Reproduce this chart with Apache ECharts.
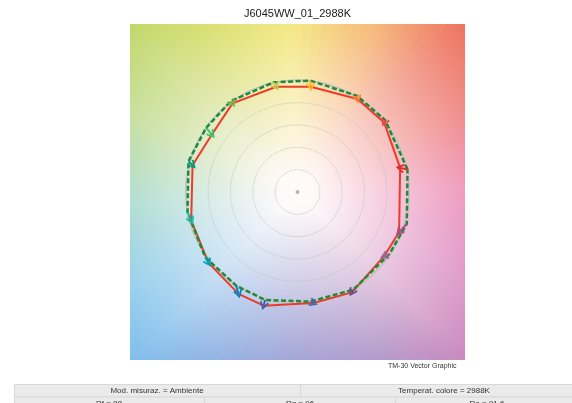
<!DOCTYPE html>
<html>
<head>
<meta charset="utf-8">
<title>J6045WW_01_2988K</title>
<script src="https://cdn.jsdelivr.net/npm/echarts@6/dist/echarts.min.js"></script>
<style>
  html, body { margin: 0; padding: 0; background: #fff; }
  #chart { width: 572px; height: 403px; }
</style>
</head>
<body>
<div id="chart"></div>
<script>
// TM-30 hue bins 1..16, normalized a'b' (reference = circle of radius 1)
const hueBins = ['1', '2', '3', '4', '5', '6', '7', '8', '9', '10', '11', '12', '13', '14', '15', '16']
const refX = [0.985, 0.785, 0.531, 0.113, -0.215, -0.597, -0.818, -0.976, -0.985, -0.827, -0.549, -0.290, 0.113, 0.501, 0.824, 0.979]
const refY = [0.203, 0.642, 0.860, 0.994, 0.979, 0.812, 0.573, 0.275, -0.179, -0.582, -0.836, -0.964, -0.979, -0.872, -0.552, -0.284]
const testX = [0.919, 0.776, 0.537, 0.119, -0.191, -0.582, -0.767, -0.940, -0.952, -0.797, -0.528, -0.304, 0.143, 0.487, 0.776, 0.910]
const testY = [0.215, 0.621, 0.830, 0.940, 0.940, 0.791, 0.513, 0.239, -0.254, -0.633, -0.910, -1.015, -0.991, -0.896, -0.573, -0.358]
const binColors = ['#e62828', '#e74b4b', '#fb812e', '#ffb529', '#cbca46', '#7eb94c', '#41c06d', '#009c7c',
  '#16bcb0', '#00a4bf', '#0085c3', '#3b62aa', '#4568ae', '#6a4e85', '#9d69a1', '#a74f81']

const axisRange = [-1.5, 1.5]
const ringRadius = [0, 1]
const ringStep = 0.2

const titleText = 'J6045WW_01_2988K'
const captionText = 'TM-30 Vector Graphic'
const infoRow1 = ['Mod. misuraz. = Ambiente', 'Temperat. colore = 2988K']
const infoRow2 = ['Rf = 88', 'Rg = 96', 'Ra = 91.6']

// background hue colours along the square border, clockwise from top-left corner
const edgeColors = ['#c2d76b', '#d9e074', '#f5e985', '#f6b878', '#ed745f', '#f08c86', '#f09dbf', '#e29bcb',
  '#c98abf', '#b79bcb', '#a7a5d6', '#93b2e3', '#7fbdec', '#9cd2ed', '#b4dfd2', '#c6df9c']

const sq = { left: 130, top: 24, width: 335, height: 336 }
const cx = sq.left + sq.width / 2
const cy = sq.top + sq.height / 2

function perimeterPoint(t) {
  t = ((t % 16) + 16) % 16
  const s = Math.floor(t / 4) % 4
  const f = (t - 4 * Math.floor(t / 4)) / 4
  if (s === 0) return [sq.left + f * sq.width, sq.top]
  if (s === 1) return [sq.left + sq.width, sq.top + f * sq.height]
  if (s === 2) return [sq.left + sq.width - f * sq.width, sq.top + sq.height]
  return [sq.left, sq.top + sq.height - f * sq.height]
}

function hex2rgb(h) {
  return [parseInt(h.slice(1, 3), 16), parseInt(h.slice(3, 5), 16), parseInt(h.slice(5, 7), 16)]
}

function mix(a, b, f) {
  const c1 = hex2rgb(a)
  const c2 = hex2rgb(b)
  const c = c1.map((v, i) => Math.round(v + (c2[i] - v) * f))
  return 'rgb(' + c.join(',') + ')'
}

// background wedges, each overlapping the previous one to hide seams
const background = []
const steps = 128
const dt = 16 / steps
for (let j = 0; j < steps; j++) {
  const ta = j * dt - 0.6 * dt
  const tb = (j + 1) * dt
  const tm = (j + 0.5) * dt
  const pm = perimeterPoint(tm)
  const i0 = Math.floor(tm)
  const col = mix(edgeColors[i0 % 16], edgeColors[(i0 + 1) % 16], tm - i0)
  const r = Math.hypot(pm[0] - cx, pm[1] - cy)
  const grad = {
    type: 'radial', x: cx, y: cy, r: r, global: true,
    colorStops: [
      { offset: 0, color: '#fffafa' },
      { offset: 0.08, color: '#fffafa' },
      { offset: 1, color: col }
    ]
  }
  const pts = [[cx, cy], perimeterPoint(ta)]
  const k = Math.ceil(ta / 4) * 4
  if (k > ta && k < tb) pts.push(perimeterPoint(k))
  pts.push(perimeterPoint(tb))
  background.push({
    type: 'polygon',
    silent: true,
    z: 0,
    shape: { points: pts },
    style: { fill: grad }
  })
}

// info table below the chart
const fontFamily = '"Liberation Sans", Arial, sans-serif'
const table = []
function cell(x0, x1, y0, h, text, tx) {
  table.push({
    type: 'rect', silent: true,
    shape: { x: x0, y: y0, width: x1 - x0, height: h },
    style: { fill: '#ebebeb', stroke: '#d8d8d8', lineWidth: 1 }
  })
  table.push({
    type: 'text', silent: true, x: tx, y: y0 + h / 2,
    style: { text: text, fill: '#333', font: '8px ' + fontFamily, textAlign: 'center', textVerticalAlign: 'middle' }
  })
}
cell(14.5, 300.5, 384.5, 12.5, infoRow1[0], 157)
cell(300.5, 590, 384.5, 12.5, infoRow1[1], 444)
cell(14.5, 204.5, 397, 13, infoRow2[0], 109)
cell(204.5, 395.5, 397, 13, infoRow2[1], 300)
cell(395.5, 590, 397, 13, infoRow2[2], 487)

const refData = refX.map((x, i) => [x, refY[i]])
refData.push(refData[0])
const testData = testX.map((x, i) => [x, testY[i]])
testData.push(testData[0])
const arrows = hueBins.map((b, i) => ({
  name: b,
  coords: [[refX[i], refY[i]], [testX[i], testY[i]]],
  lineStyle: { color: binColors[i] }
}))

const myChart = echarts.init(document.getElementById('chart'))
const option = {
  animation: false,
  backgroundColor: '#fff',
  title: {
    text: titleText,
    left: cx,
    textAlign: 'center',
    top: 8,
    padding: 0,
    textStyle: { fontSize: 11, fontWeight: 'normal', color: '#1a1a1a', fontFamily: fontFamily }
  },
  graphic: [
    ...background,
    {
      type: 'text', silent: true, x: 388, y: 366,
      style: { text: captionText, fill: '#333', font: '7px ' + fontFamily, textVerticalAlign: 'middle' }
    },
    ...table
  ],
  grid: { left: sq.left, top: sq.top, width: sq.width, height: sq.height, show: false },
  xAxis: { type: 'value', min: axisRange[0], max: axisRange[1], show: false },
  yAxis: { type: 'value', min: axisRange[0], max: axisRange[1], show: false },
  polar: { center: [cx, cy], radius: sq.width / 3 },
  angleAxis: {
    type: 'value', min: 0, max: 360, z: 2,
    axisLine: { show: true, lineStyle: { color: '#c4c4c4', width: 2 } },
    axisTick: { show: false },
    axisLabel: { show: false },
    splitLine: { show: false }
  },
  radiusAxis: {
    type: 'value', min: ringRadius[0], max: ringRadius[1], interval: ringStep, z: 2,
    axisLine: { show: false },
    axisTick: { show: false },
    axisLabel: { show: false },
    splitLine: { show: true, lineStyle: { type: 'dotted', color: '#c2c2c2', width: 1 } }
  },
  series: [
    {
      name: 'Test',
      type: 'line',
      z: 3,
      data: testData,
      showSymbol: false,
      lineStyle: { color: '#ec3b2b', width: 2 }
    },
    {
      name: 'Reference',
      type: 'line',
      z: 4,
      data: refData,
      showSymbol: false,
      lineStyle: { color: '#1f8b3a', width: 2.5, type: [5, 2.5] }
    },
    {
      name: 'Vectors',
      type: 'lines',
      coordinateSystem: 'cartesian2d',
      z: 5,
      symbol: ['none', 'path://M0,0 L6,7 L4.4,8.4 L0,3 L-4.4,8.4 L-6,7 Z'],
      symbolSize: 9,
      lineStyle: { width: 2, opacity: 1 },
      data: arrows
    },
    {
      name: 'Center',
      type: 'scatter',
      z: 5,
      data: [[0, 0]],
      symbolSize: 4,
      itemStyle: { color: '#a0a0a0' }
    }
  ]
}
myChart.setOption(option)
</script>
</body>
</html>
